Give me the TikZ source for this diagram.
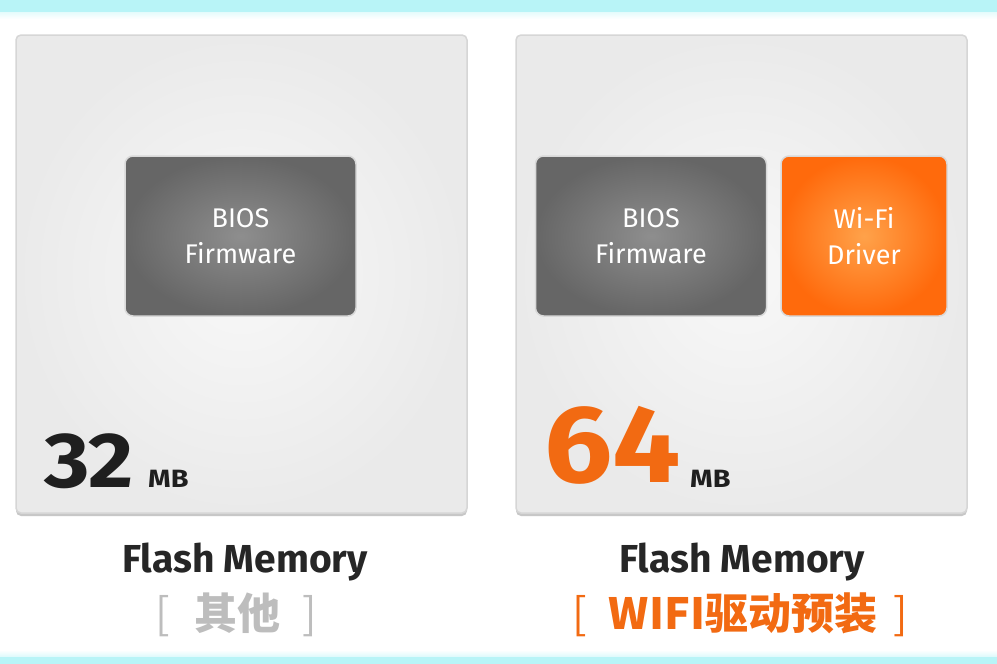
\documentclass[tikz,border=0pt]{standalone}
\usepackage{fontspec}
\setmainfont{Fira Sans}
\newfontfamily\cjk{Noto Sans CJK SC}
\definecolor{band}{HTML}{B8F4F7}
\definecolor{panelin}{HTML}{F8F8F8}
\definecolor{panelout}{HTML}{EAEAEA}
\definecolor{panelline}{HTML}{D6D6D6}
\definecolor{chipin}{HTML}{8E8E8E}
\definecolor{chipout}{HTML}{666666}
\definecolor{wifiin}{HTML}{FFA24A}
\definecolor{wifiout}{HTML}{FF6A0C}
\definecolor{accent}{HTML}{F26A12}
\definecolor{soft}{HTML}{BDBDBD}
\tikzset{
  panel/.style={draw=panelline, line width=1.5pt, rounded corners=5pt,
    inner color=panelin, outer color=panelout, minimum width=451pt, minimum height=478pt},
  shadowbox/.style={fill=black!22, rounded corners=5pt, minimum width=451pt, minimum height=478pt},
  chip/.style={draw=white!85!black, line width=1.5pt, rounded corners=8pt,
    minimum height=160pt, text=white, align=center,
    font=\fontsize{27}{36}\selectfont},
  caption/.style={font=\fontsize{39}{44}\selectfont\bfseries, text=black!85},
  note/.style={font=\cjk\bfseries\fontsize{43}{48}\selectfont},
  digits/.style={anchor=base west, inner sep=0pt, font=\bfseries}
}
\begin{document}
\begin{tikzpicture}[x=1pt,y=-1pt]
  \useasboundingbox (0,0) rectangle (997,664);
  \fill[white] (0,0) rectangle (997,664);
  \shade[top color=band, bottom color=white] (0,0) rectangle (997,19);
  \fill[band] (0,0) rectangle (997,12);
  \shade[top color=white, bottom color=band] (0,650) rectangle (997,664);
  \fill[band] (0,657) rectangle (997,664);

  \node[shadowbox] at (241.5,277) {};
  \node[shadowbox] at (741.5,277) {};
  \node (left) [panel] at (241.5,274) {};
  \node (right) [panel] at (741.5,274) {};

  \node (bios) [chip, minimum width=231pt, inner color=chipin, outer color=chipout] at (240.5,236) {BIOS\\Firmware};
  \node (bios2) [chip, minimum width=231pt, inner color=chipin, outer color=chipout] at (651,236) {BIOS\\Firmware};
  \node (wifi) [chip, minimum width=166pt, inner color=wifiin, outer color=wifiout] at (864,236) {Wi-Fi\\Driver};

  \node (small) [digits, text=black!88] at (44,487) {\scalebox{1.12}[1]{\fontsize{78}{80}\selectfont 32}};
  \node (smallmb) [digits, text=black!88] at (148,487) {\scalebox{1.15}[1]{\fontsize{25}{28}\selectfont MB}};
  \node (big) [digits, text=accent] at (544,482) {\scalebox{1.1}[1]{\fontsize{110}{112}\selectfont 64}};
  \node (bigmb) [digits, text=black!88] at (690,487) {\scalebox{1.15}[1]{\fontsize{25}{28}\selectfont MB}};

  \node (cap1) [caption, anchor=base] at (245,572) {Flash Memory};
  \node (cap2) [caption, anchor=base] at (742,572) {Flash Memory};
  \node (note1) [note, text=soft] at (236,615) {\mdseries[\hspace{24pt}\bfseries 其他\hspace{22pt}\mdseries]};
  \node (note2) [note, text=accent] at (740,615) {\mdseries[\hspace{22pt}\bfseries WIFI驱动预装\hspace{16pt}\mdseries]};
\end{tikzpicture}
\end{document}
